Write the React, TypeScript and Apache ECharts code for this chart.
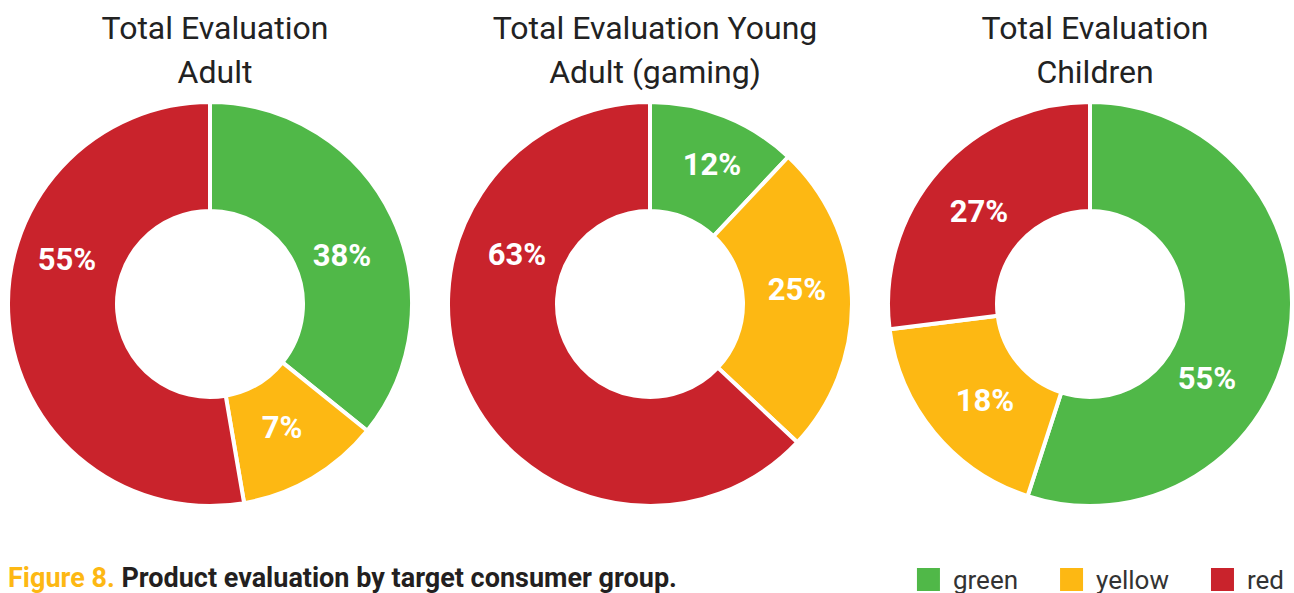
import React, { useEffect, useRef } from "react";
import * as echarts from "echarts";

const categories = ["green", "yellow", "red"];
const colors = ["#50b848", "#fdb813", "#c9232c"];
const chartTitles = ["Total Evaluation\nAdult", "Total Evaluation Young\nAdult (gaming)", "Total Evaluation\nChildren"];
// slice sizes as drawn in the picture
const adultSlices = [35.8, 11.5, 52.7];
const youngAdultSlices = [12, 25, 63];
const childrenSlices = [55, 18, 27];
// percentage labels as printed
const adultLabels = ["38%", "7%", "55%"];
const youngAdultLabels = ["12%", "25%", "63%"];
const childrenLabels = ["55%", "18%", "27%"];
const allSlices = [adultSlices, youngAdultSlices, childrenSlices];
const allLabels = [adultLabels, youngAdultLabels, childrenLabels];
const centersX = [210, 650, 1090];
// label anchor points as placed in the original
const labelPos: [number, number][][] = [
  [[342, 255], [282, 427], [67, 259]],
  [[712, 164], [797, 289], [517, 254]],
  [[1207, 378], [985, 400], [979, 211]],
];

export default function App() {
  const ref = useRef<HTMLDivElement>(null);
  useEffect(() => {
    if (!ref.current) return;
    const chart = echarts.init(ref.current, null, { renderer: "svg" });
    const font = "Roboto, 'Noto Sans', sans-serif";
    const series = allSlices.map((vals, si) => ({
      type: "pie",
      center: [centersX[si], 304],
      radius: [93, 202],
      startAngle: 90,
      clockwise: true,
      avoidLabelOverlap: false,
      itemStyle: { borderColor: "#ffffff", borderWidth: 4 },
      label: {
        show: true,
        position: "inside",
        formatter: (p: any) => allLabels[si][p.dataIndex],
        color: "#ffffff",
        fontFamily: font,
        fontWeight: "bold",
        fontSize: 31,
        align: "center",
        verticalAlign: "middle",
      },
      labelLine: { show: false },
      emphasis: { disabled: true },
      labelLayout: (p: any) => {
        const s = labelPos[si][p.dataIndex];
        return { x: s[0], y: s[1], align: "center", verticalAlign: "middle" };
      },
      data: vals.map((v, i) => ({
        name: categories[i],
        value: v,
        itemStyle: { color: colors[i] },
      })),
    }));
    chart.setOption({
      animation: false,
      backgroundColor: "#ffffff",
      color: colors,
      title: chartTitles.map((t, i) => ({
        text: t,
        left: centersX[i],
        top: 1,
        textAlign: "center",
        textStyle: {
          fontFamily: font,
          fontWeight: "normal",
          fontSize: 32,
          lineHeight: 44,
          color: "#222222",
        },
      })),
      legend: {
        data: categories,
        right: 5,
        top: 561,
        icon: "rect",
        itemWidth: 25,
        itemHeight: 25,
        itemGap: 40,
        selectedMode: false,
        textStyle: {
          fontFamily: font,
          fontSize: 26,
          color: "#333333",
          padding: [0, 0, 0, 7],
        },
      },
      graphic: [
        {
          type: "text",
          left: 8,
          top: 564,
          style: {
            text: "{a|Figure 8.}  {b|Product evaluation by target consumer group.}",
            rich: {
              a: { fontFamily: font, fontWeight: "bold", fontSize: 27, fill: "#fdb813", color: "#fdb813" },
              b: { fontFamily: font, fontWeight: "bold", fontSize: 27, fill: "#231f20", color: "#231f20" },
            },
          },
        },
      ],
      series,
    });
    return () => chart.dispose();
  }, []);
  return (
    <div
      ref={ref}
      style={{ position: "fixed", left: 0, top: 0, width: 1294, height: 593 }}
    />
  );
}
